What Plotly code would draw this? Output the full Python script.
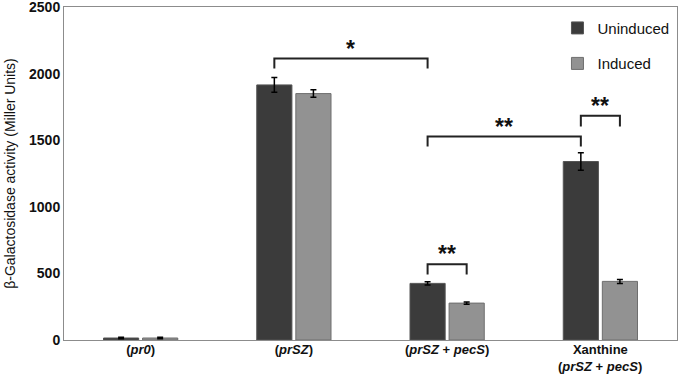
import plotly.graph_objects as go

categories = ["<b>(<i>pr0</i>)</b>", "<b>(<i>prSZ</i>)</b>", "<b>(<i>prSZ</i> + <i>pecS</i>)</b>",
              "<b>Xanthine</b>"]
category_second_line = ["", "", "", "<b>(<i>prSZ</i> + <i>pecS</i>)</b>"]
uninduced = [15, 1915, 425, 1340]
uninduced_err = [5, 55, 12, 65]
induced = [15, 1850, 277, 440]
induced_err = [5, 28, 8, 15]
y_ticks = [0, 500, 1000, 1500, 2000, 2500]

# significance brackets: (cat_a, series_a, cat_b, series_b, y_top, y_leg, label)
brackets = [
    (1, 0, 2, 0, 2113, 2038, "*"),
    (2, 0, 3, 0, 1527, 1452, "**"),
    (3, 0, 3, 1, 1684, 1602, "**"),
    (2, 0, 2, 1, 569, 492, "**"),
]

bargap = 0.49
bargroupgap = 0.1
xs = list(range(len(categories)))
FONT = "Liberation Sans, Arial"

fig = go.Figure()
fig.add_trace(go.Bar(
    x=xs, y=uninduced, name="Uninduced", legendgroup="a",
    marker=dict(color="#3b3b3b", line=dict(color="#555555", width=1)),
    error_y=dict(type="data", array=uninduced_err, color="black", thickness=1.5, width=3),
))
fig.add_trace(go.Bar(
    x=xs, y=induced, name="Induced", legendgroup="b",
    marker=dict(color="#929292", line=dict(color="#6e6e6e", width=1)),
    error_y=dict(type="data", array=induced_err, color="black", thickness=1.5, width=3),
))

slot = (1 - bargap) / 2
offsets = [-slot / 2, slot / 2]
for ca, sa, cb, sb, ytop, yleg, lab in brackets:
    xa = ca + offsets[sa]
    xb = cb + offsets[sb]
    fig.add_shape(type="path",
                  path=f"M {xa},{yleg} L {xa},{ytop} L {xb},{ytop} L {xb},{yleg}",
                  line=dict(color="#222222", width=2))
    fig.add_annotation(x=(xa + xb) / 2, y=ytop, text=f"<b>{lab}</b>", showarrow=False,
                       yanchor="bottom", yshift=-5,
                       font=dict(family=FONT, size=23, color="#111111"))

for x, t in zip(xs, category_second_line):
    if t:
        fig.add_annotation(x=x, xref="x", y=0, yref="paper", yanchor="top", yshift=-17,
                           text=t, showarrow=False,
                           font=dict(family=FONT, size=13, color="#111111"))

fig.update_layout(
    width=685, height=376,
    margin=dict(l=64, r=8, t=7, b=36),
    paper_bgcolor="white", plot_bgcolor="white",
    barmode="group", bargap=bargap, bargroupgap=bargroupgap,
    font=dict(family=FONT, color="#111111"),
    legend=dict(x=0.805, y=0.986, xanchor="left", yanchor="top",
                font=dict(size=15, color="#111111"), tracegroupgap=13,
                bgcolor="rgba(0,0,0,0)"),
    xaxis=dict(tickvals=xs, ticktext=categories, range=[-0.5, 3.5],
               showline=True, linecolor="#8c8c8c", linewidth=1, mirror=True,
               ticks="", showgrid=False, zeroline=False, automargin=False,
               ticklabelstandoff=-3,
               tickfont=dict(size=13, color="#111111")),
    yaxis=dict(range=[0, 2500], tickvals=y_ticks,
               ticktext=[f"<b>{t}</b>" for t in y_ticks],
               showline=True, linecolor="#8c8c8c", linewidth=1, mirror=True,
               ticks="", showgrid=False, zeroline=False, automargin=False,
               ticklabeloverflow="allow",
               tickfont=dict(size=14, color="#111111"),
               title=dict(text="β-Galactosidase activity (Miller Units)",
                          font=dict(size=14, color="#111111"), standoff=10)),
)

fig.write_html("out.html", config={"displayModeBar": False},
               post_script="document.body.style.margin='0';")
